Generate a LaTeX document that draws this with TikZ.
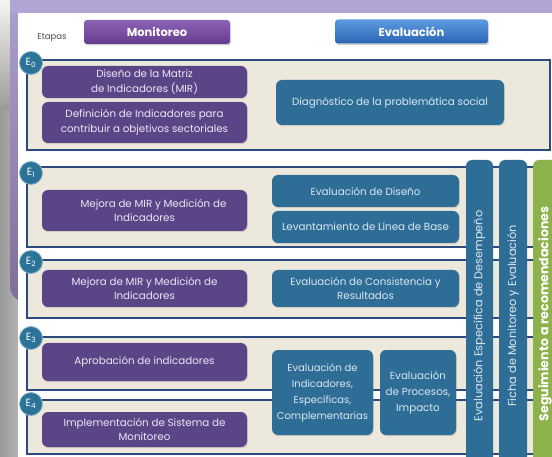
\documentclass[tikz,border=0pt]{standalone}
\usepackage{fontspec}
\setmainfont{Poppins}
\usetikzlibrary{shadows}
\definecolor{lav}{HTML}{B2A4D4}
\definecolor{lavdark}{HTML}{7E6E9C}
\definecolor{panelfill}{HTML}{ECE8DC}
\definecolor{paneldraw}{HTML}{2C4A7C}
\definecolor{pbox}{HTML}{5C4586}
\definecolor{bbox}{HTML}{2D6D96}
\definecolor{circ}{HTML}{2C7398}
\definecolor{grn}{HTML}{8DB14B}
\definecolor{ptext}{HTML}{EDE6F5}
\definecolor{btext}{HTML}{DCE8F2}
\definecolor{greyl}{HTML}{B4B4B4}
\definecolor{greyd}{HTML}{9A9A9A}
\definecolor{montop}{HTML}{8C62B4}
\definecolor{monbot}{HTML}{653C8E}
\definecolor{evtop}{HTML}{5C9BE0}
\definecolor{evbot}{HTML}{2A64B4}
\begin{document}
\begin{tikzpicture}[x=1pt,y=-1pt,
  panel/.style={draw=paneldraw, line width=1.4pt, fill=panelfill, minimum width=523pt, inner sep=0pt, rectangle},
  boxbase/.style={rounded corners=6pt, align=center, inner sep=0pt, font=\fontsize{10.3}{14.5}\selectfont,
    drop shadow={opacity=0.25, shadow xshift=0.8pt, shadow yshift=-1.2pt}},
  pbx/.style={boxbase, fill=pbox, text=ptext, minimum width=205pt},
  bbx/.style={boxbase, fill=bbox, text=btext},
  stage/.style={circle, fill=circ, draw=circ!55!white, line width=0.8pt, minimum size=23pt, inner sep=0pt, text=white, font=\fontsize{10.5}{11}\selectfont},
  vtext/.style={rotate=90, text=btext, font=\fontsize{11.3}{13}\selectfont},
  btn/.style={rounded corners=3pt, minimum height=24pt, text=white, font=\bfseries\fontsize{11.5}{13}\selectfont,
    drop shadow={opacity=0.35, shadow xshift=1pt, shadow yshift=-1.5pt}}
]
\useasboundingbox (0,0) rectangle (552,457);
\clip (0,0) rectangle (552,457);
% background
\fill[greyl] (0,0) rectangle (552,457);
\shade[left color=greyd, right color=greyl] (0,100) rectangle (20,457);
\shade[top color=white!92!gray, bottom color=greyd] (0,0) rectangle (10,110);
\shade[top color=lav, bottom color=lavdark, rounded corners=16pt] (10,-30) rectangle (600,302);
\fill[lav] (10,0) rectangle (552,13);
\fill[white] (18,13) rectangle (552,457);

% headers
\node[font=\fontsize{8.5}{10}\selectfont, text=black!70] (etapas) at (52,38) {Etapas};
\node[btn, top color=montop, bottom color=monbot, minimum width=146pt] (mon) at (157,32) {Monitoreo};
\node[btn, top color=evtop, bottom color=evbot, minimum width=153pt] (eval) at (411.5,31.5) {Evaluación};

% panels
\node[panel, minimum height=90pt] (p0) at (288.5,105) {};
\node[panel, minimum height=80pt] (p1) at (288.5,207) {};
\node[panel, minimum height=58pt] (p2) at (288.5,289) {};
\node[panel, minimum height=53pt] (p3) at (288.5,363.5) {};
\node[panel, minimum height=54pt] (p4) at (288.5,427) {};

% monitoring boxes
\node[pbx, minimum height=32pt] (m0a) at (144.5,82) {Diseño de la Matriz\\de Indicadores (MIR)};
\node[pbx, minimum height=41pt] (m0b) at (144.5,122.5) {Definición de Indicadores para\\contribuir a objetivos sectoriales};
\node[pbx, minimum height=41pt] (m1) at (144.5,210.5) {\hspace*{18pt}Mejora de MIR y Medición de\\Indicadores};
\node[pbx, minimum height=37pt] (m2) at (144.5,288.5) {Mejora de MIR y Medición de\\Indicadores};
\node[pbx, minimum height=38pt] (m3) at (144.5,362) {Aprobación de indicadores};
\node[pbx, minimum height=35pt] (m4) at (144.5,429.5) {Implementación de Sistema de\\Monitoreo};

% evaluation boxes
\node[bbx, minimum width=228pt, minimum height=45pt] (e0) at (390,102.5) {Diagnóstico de la problemática social};
\node[bbx, minimum width=187pt, minimum height=32pt] (e1a) at (365.5,191) {Evaluación de Diseño};
\node[bbx, minimum width=187pt, minimum height=32pt] (e1b) at (365.5,227) {Levantamiento de Línea de Base};
\node[bbx, minimum width=187pt, minimum height=37pt] (e2) at (365.5,288.5) {Evaluación de Consistencia y\\Resultados};
\node[bbx, minimum width=101pt, minimum height=85pt, font=\fontsize{10}{16}\selectfont] (e3a) at (322.5,392.5) {Evaluación de\\Indicadores,\\Específicas,\\Complementarias};
\node[bbx, minimum width=76pt, minimum height=85pt, font=\fontsize{10.3}{16}\selectfont] (e3b) at (418,392.5) {Evaluación\\de Procesos,\\Impacto};

% vertical bars
\fill[bbox, rounded corners=6pt] (466,480) rectangle (493,160);
\fill[bbox, rounded corners=6pt] (499,480) rectangle (527,160);
\fill[grn, rounded corners=6pt] (533,480) rectangle (570,160);
\node[vtext] (v1) at (479.5,316) {Evaluación Específica de Desempeño};
\node[vtext] (v2) at (513,316) {Ficha de Monitoreo y Evaluación};
\node[vtext, text=white, font=\bfseries\fontsize{12.6}{14}\selectfont] (v3) at (545,314) {Seguimiento a recomendaciones};

% stage circles
\node[stage] (s0) at (31,63) {E\textsubscript{0}};
\node[stage] (s1) at (31,173) {E\textsubscript{1}};
\node[stage] (s2) at (31,262) {E\textsubscript{2}};
\node[stage] (s3) at (31,338) {E\textsubscript{3}};
\node[stage] (s4) at (31,404) {E\textsubscript{4}};
\end{tikzpicture}
\end{document}
